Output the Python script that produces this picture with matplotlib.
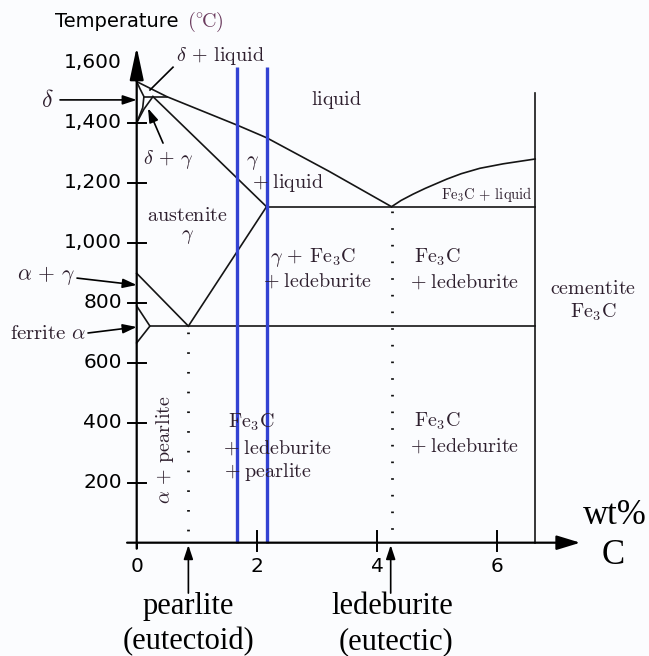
import matplotlib.pyplot as plt

plt.rcParams['mathtext.fontset'] = 'cm'

# axis ticks
temp_ticks = [200, 400, 600, 800, 1000, 1200, 1400]
temp_label_vals = [200, 400, 600, 800, 1000, 1200, 1400, 1600]
temp_labels = ['200', '400', '600', '800', '1,000', '1,200', '1,400', '1,600']
carbon_ticks = [0, 2, 4, 6]
carbon_labels = ['0', '2', '4', '6']

# phase boundaries (wt% C, deg C)
liquidus_c = [0, 0.5, 1.67, 2.16, 3.2, 4.24]
liquidus_t = [1537, 1487, 1392, 1350, 1238, 1120]
fe3c_liq_c = [4.24, 4.4, 4.6, 4.8, 5.16, 5.4, 5.71, 6.1, 6.63]
fe3c_liq_t = [1120, 1141, 1162, 1181, 1212, 1230, 1248, 1263, 1279]
delta_c = [0, 0.05, 0.12, 0.1, 0.05, 0]
delta_t = [1537, 1515, 1487, 1450, 1425, 1400]
dg_c = [0, 0.12, 0.27]
dg_t = [1400, 1445, 1487]
peritectic_c = [0.12, 0.5]
peritectic_t = [1487, 1487]
solidus_c = [0.27, 2.16]
solidus_t = [1487, 1120]
a3_c = [0, 0.86]
a3_t = [898, 722]
acm_c = [0.86, 2.16]
acm_t = [722, 1120]
ferrite_c = [0, 0.22, 0]
ferrite_t = [789, 722, 666]
eutectic_line_c = [2.16, 6.63]
eutectic_t = 1120
eutectoid_line_c = [0.22, 6.63]
eutectoid_t = 722
cementite_c = 6.63
cementite_top = 1498
eutectoid_c = 0.86
eutectic_c = 4.24
blue_c = [1.67, 2.16]
blue_top = 1585

fig = plt.figure(figsize=(6.49, 6.56), dpi=100)
fig.patch.set_facecolor('#fbfcfe')
ax = fig.add_axes([0, 0, 1, 1])
ax.set_xlim(-2.2745, 8.524)
ax.set_ylim(-377.7, 1809)
ax.axis('off')

k = dict(color='#151515', lw=1.2)
ax.plot(liquidus_c, liquidus_t, **k)
ax.plot(fe3c_liq_c, fe3c_liq_t, **k)
ax.plot(delta_c, delta_t, **k)
ax.plot(dg_c, dg_t, **k)
ax.plot(peritectic_c, peritectic_t, **k)
ax.plot(solidus_c, solidus_t, **k)
ax.plot(a3_c, a3_t, **k)
ax.plot(acm_c, acm_t, **k)
ax.plot(ferrite_c, ferrite_t, **k)
ax.plot(eutectic_line_c, [eutectic_t, eutectic_t], **k)
ax.plot(eutectoid_line_c, [eutectoid_t, eutectoid_t], **k)
ax.plot([cementite_c, cementite_c], [0, cementite_top], **k)

# dotted composition lines
ax.plot([eutectoid_c, eutectoid_c], [eutectoid_t - 20, 40], color='#111111',
        lw=2.0, linestyle=(0, (0.6, 6.5)), dash_capstyle='butt')
ax.plot([eutectic_c, eutectic_c], [eutectic_t - 15, 40], color='#111111',
        lw=2.0, linestyle=(0, (0.6, 5.4)), dash_capstyle='butt')

# blue lines
for c in blue_c:
    ax.plot([c, c], [0, blue_top], color='#3242d2', lw=2.4, solid_capstyle='butt')

# axes with arrows
ax.annotate('', xy=(0, 1652), xytext=(0, -20),
            arrowprops=dict(arrowstyle='-|>,head_length=0.8,head_width=0.17',
                            mutation_scale=25, color='black', lw=1.6,
                            shrinkA=0, shrinkB=0))
ax.annotate('', xy=(7.38, 0), xytext=(-0.16, 0),
            arrowprops=dict(arrowstyle='-|>,head_length=0.72,head_width=0.22',
                            mutation_scale=20, color='black', lw=1.6,
                            shrinkA=0, shrinkB=0))
for t in temp_ticks:
    ax.plot([-0.15, 0.15], [t, t], color='black', lw=1.4)
for c in carbon_ticks[1:]:
    ax.plot([c, c], [-28, 39], color='black', lw=1.4)
ax.plot([0, 0], [0, -18], color='black', lw=1.4)

for t, lab in zip(temp_label_vals, temp_labels):
    ax.text(-0.245, t, lab, ha='right', va='center', fontsize=14.5,
            family='DejaVu Sans')
for c, lab in zip(carbon_ticks, carbon_labels):
    ax.text(c, -81, lab, ha='center', va='center', fontsize=14.5,
            family='DejaVu Sans')

ax.text(-1.36, 1736, 'Temperature', ha='left', va='center', fontsize=14,
        family='DejaVu Sans')
ax.text(0.84, 1736, r'$(^{\circ}\!\mathrm{C})$', ha='left', va='center',
        fontsize=14.5, color='#6b3b5e')

tc = '#2e1f2e'
fs = 14.5


def lab(x, y, s, size=fs, **kw):
    ax.text(x, y, s, ha='center', va='center', fontsize=size, color=tc, **kw)


def arrow(x0, y0, x1, y1):
    ax.annotate('', xy=(x1, y1), xytext=(x0, y0),
                arrowprops=dict(arrowstyle='-|>,head_length=0.6,head_width=0.2',
                                mutation_scale=14, color='black', lw=1.2,
                                shrinkA=0, shrinkB=0))


lab(-1.49, 1476, r'$\delta$', size=17)
arrow(-1.276, 1476, 0, 1476)
lab(1.385, 1622, r'$\delta\,+\,\mathrm{liquid}$')
ax.plot([0.604, 0.221], [1585, 1509], color='black', lw=1.2)
lab(0.52, 1276, r'$\delta\,+\,\gamma$')
arrow(0.438, 1332, 0.188, 1448)
lab(3.333, 1476, r'$\mathrm{liquid}$')
lab(1.935, 1266, r'$\gamma$')
lab(2.517, 1199, r'$+\;\mathrm{liquid}$')
lab(0.837, 1092, r'$\mathrm{austenite}$')
lab(0.837, 1022, r'$\gamma$')
lab(2.933, 949, r'$\gamma\,+\,\mathrm{Fe_3C}$')
lab(3.017, 872, r'$+\;\mathrm{ledeburite}$')
lab(4.997, 952, r'$\mathrm{Fe_3C}$')
lab(5.463, 869, r'$+\;\mathrm{ledeburite}$')
lab(5.829, 1159, r'$\mathrm{Fe_3C}\,+\,\mathrm{liquid}$', size=10.5)
lab(7.592, 846, r'$\mathrm{cementite}$')
lab(7.592, 769, r'$\mathrm{Fe_3C}$')
lab(-1.509, 889, r'$\alpha\,+\,\gamma$', size=15.5)
arrow(-0.993, 882, 0, 859)
lab(-1.476, 699, r'$\mathrm{ferrite}\ \alpha$', size=15)
arrow(-0.81, 699, 0, 719)
lab(0.471, 309, r'$\alpha\,+\,\mathrm{pearlite}$', rotation=90)
lab(1.902, 402, r'$\mathrm{Fe_3C}$')
lab(2.351, 316, r'$+\;\mathrm{ledeburite}$')
lab(2.185, 236, r'$+\;\mathrm{pearlite}$')
lab(4.997, 406, r'$\mathrm{Fe_3C}$')
lab(5.463, 322, r'$+\;\mathrm{ledeburite}$')

big = dict(ha='center', va='center', fontsize=25, family='Liberation Serif',
           color='black')
ax.text(7.96, 92, 'wt%', **big)
ax.text(7.927, -44, 'C', **big)

bot = dict(ha='center', va='center', fontsize=22, family='Liberation Serif',
           color='black')
ax.text(0.86, -212, 'pearlite', **bot)
ax.text(0.86, -330, '(eutectoid)', **bot)
ax.text(4.25, -212, 'ledeburite', **bot)
ax.text(4.31, -330, '(eutectic)', **bot)
arrow(eutectoid_c, -168, eutectoid_c, -8)
arrow(4.226, -168, 4.226, -8)

plt.savefig('out.png', dpi=100, facecolor=fig.get_facecolor())
